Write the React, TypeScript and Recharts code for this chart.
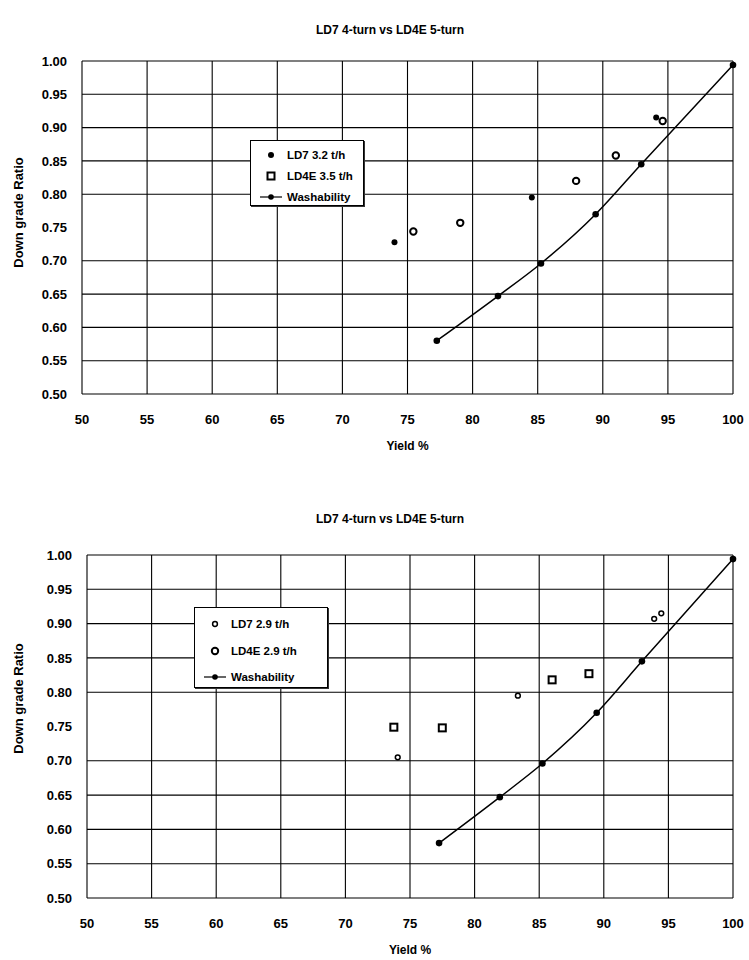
import { ComposedChart, Scatter, Line, XAxis, YAxis, CartesianGrid } from "recharts"

const xTicks = [50, 55, 60, 65, 70, 75, 80, 85, 90, 95, 100]
const yTicks = [0.5, 0.55, 0.6, 0.65, 0.7, 0.75, 0.8, 0.85, 0.9, 0.95, 1.0]
// the 0.75 rule is missing on the printed sheet
const yRules = [0.5, 0.55, 0.6, 0.65, 0.7, 0.8, 0.85, 0.9, 0.95, 1.0]

const chartTitle = "LD7 4-turn vs LD4E 5-turn"

// washability curve (same on both sheets)
const washYield = [77.25, 81.95, 85.25, 89.45, 92.95, 100]
const washRatio = [0.58, 0.647, 0.696, 0.77, 0.845, 0.994]

// top sheet
const ld7aYield = [74.0, 84.55, 94.1]
const ld7aRatio = [0.728, 0.795, 0.915]
const ld4eaYield = [75.45, 79.05, 87.95, 91.0, 94.6]
const ld4eaRatio = [0.744, 0.757, 0.82, 0.858, 0.91]

// bottom sheet
const ld7bYield = [74.05, 83.35, 93.9, 94.45]
const ld7bRatio = [0.705, 0.795, 0.907, 0.915]
const ld4ebYield = [73.75, 77.5, 86.0, 88.85]
const ld4ebRatio = [0.749, 0.748, 0.818, 0.827]

const zip = (xs: number[], ys: number[]) => xs.map((x, i) => ({ x, y: ys[i] }))

const font = "'Liberation Sans', Arial, sans-serif"

type Mark = "dot" | "ring" | "small" | "square"

const drawMark = (kind: Mark, cx: number, cy: number) => {
  if (kind === "dot") return <circle cx={cx} cy={cy} r={3} fill="#000" />
  if (kind === "ring") return <circle cx={cx} cy={cy} r={3.2} fill="#fff" stroke="#000" strokeWidth={2} />
  if (kind === "small") return <circle cx={cx} cy={cy} r={2.4} fill="#fff" stroke="#000" strokeWidth={1.5} />
  return <rect x={cx - 3.5} y={cy - 3.5} width={7} height={7} fill="#fff" stroke="#000" strokeWidth={2} />
}

function LegendMark({ kind }: { kind: Mark | "line" }) {
  return (
    <svg width={24} height={10} style={{ display: "block" }}>
      {kind === "line" ? (
        <g>
          <line x1={1} y1={5} x2={23} y2={5} stroke="#000" strokeWidth={1.2} />
          <circle cx={12} cy={5} r={2.8} fill="#000" />
        </g>
      ) : (
        drawMark(kind === "ring" || kind === "square" ? (kind === "ring" ? "square" : "ring") : kind, 12, 5)
      )}
    </svg>
  )
}

type SheetProps = {
  top: number
  height: number
  plotTop: number
  plotLeft: number
  plotBottom: number
  titleY: number
  labelShift: number
  ld7: { x: number; y: number }[]
  ld4e: { x: number; y: number }[]
  ld7Mark: Mark
  ld4eMark: Mark
  ld7Name: string
  ld4eName: string
  legend: { left: number; top: number; width: number; height: number; row: number }
}

function Sheet(p: SheetProps) {
  const wash = zip(washYield, washRatio)
  const plotH = p.height - p.plotTop - p.plotBottom
  return (
    <div style={{ position: "absolute", left: 0, top: p.top, width: 749, height: p.height }}>
      <div
        style={{
          position: "absolute",
          left: 0,
          width: 780,
          top: p.titleY - 8,
          textAlign: "center",
          fontFamily: font,
          fontWeight: "bold",
          fontSize: 12,
          lineHeight: "16px",
        }}
      >
        {chartTitle}
      </div>
      <ComposedChart
        width={749}
        height={p.height}
        margin={{ top: p.plotTop, right: 16, bottom: p.plotBottom - 60, left: 0 }}
      >
        <CartesianGrid
          stroke="#000"
          strokeWidth={1.1}
          horizontalValues={yRules}
          verticalValues={xTicks}
        />
        <XAxis
          type="number"
          dataKey="x"
          domain={[50, 100]}
          ticks={xTicks}
          height={60}
          axisLine={false}
          tickLine={false}
          tickMargin={15}
          tick={{ fill: "#000", fontSize: 13, fontWeight: "bold", fontFamily: font }}
          label={{
            content: ({ viewBox }: any) => (
              <text
                x={viewBox.x + viewBox.width / 2}
                y={viewBox.y + 52}
                textAnchor="middle"
                dominantBaseline="central"
                fontFamily={font}
                fontWeight="bold"
                fontSize={12}
              >
                Yield %
              </text>
            ),
          }}
        />
        <YAxis
          type="number"
          dataKey="y"
          domain={[0.5, 1]}
          ticks={yTicks}
          width={p.plotLeft}
          axisLine={false}
          tickLine={false}
          tickMargin={9}
          tickFormatter={(v: number) => v.toFixed(2)}
          tick={{ fill: "#000", fontSize: 13, fontWeight: "bold", fontFamily: font }}
          label={{
            content: () => {
              const cy = p.plotTop + plotH / 2 - p.labelShift
              return (
                <text
                  x={18}
                  y={cy}
                  transform={`rotate(-90, 18, ${cy})`}
                  textAnchor="middle"
                  dominantBaseline="central"
                  fontFamily={font}
                  fontWeight="bold"
                  fontSize={13}
                >
                  Down grade Ratio
                </text>
              )
            },
          }}
        />
        <Line
          data={wash}
          dataKey="y"
          type="monotone"
          stroke="#000"
          strokeWidth={1.5}
          isAnimationActive={false}
          dot={(d: any) => <circle key={d.index} cx={d.cx} cy={d.cy} r={3.3} fill="#000" />}
          activeDot={false}
        />
        <Scatter
          data={p.ld7}
          dataKey="y"
          isAnimationActive={false}
          shape={(s: any) => drawMark(p.ld7Mark, s.cx, s.cy)}
        />
        <Scatter
          data={p.ld4e}
          dataKey="y"
          isAnimationActive={false}
          shape={(s: any) => drawMark(p.ld4eMark, s.cx, s.cy)}
        />
      </ComposedChart>
      <div
        style={{
          position: "absolute",
          left: p.legend.left,
          top: p.legend.top,
          width: p.legend.width,
          height: p.legend.height,
          boxSizing: "border-box",
          background: "#fff",
          border: "1px solid #000",
          boxShadow: "1px 1px 0 #333",
          fontFamily: font,
          fontWeight: "bold",
          fontSize: 11.5,
          paddingTop: 3,
        }}
      >
        {[
          { kind: p.ld7Mark as Mark | "line", name: p.ld7Name },
          { kind: p.ld4eMark as Mark | "line", name: p.ld4eName },
          { kind: "line" as Mark | "line", name: "Washability" },
        ].map((r) => (
          <div key={r.name} style={{ display: "flex", alignItems: "center", height: p.legend.row, paddingLeft: 8 }}>
            <LegendMark kind={r.kind} />
            <span style={{ marginLeft: 4 }}>{r.name}</span>
          </div>
        ))}
      </div>
    </div>
  )
}

export default function App() {
  return (
    <div style={{ position: "absolute", left: 0, top: 0, width: 749, height: 960, background: "#fff" }}>
      <Sheet
        top={0}
        height={480}
        plotTop={61}
        plotLeft={82}
        plotBottom={86}
        titleY={30}
        labelShift={15}
        ld7={zip(ld7aYield, ld7aRatio)}
        ld4e={zip(ld4eaYield, ld4eaRatio)}
        ld7Mark="dot"
        ld4eMark="ring"
        ld7Name="LD7 3.2 t/h"
        ld4eName="LD4E 3.5 t/h"
        legend={{ left: 250, top: 140, width: 114, height: 66, row: 21 }}
      />
      <Sheet
        top={490}
        height={470}
        plotTop={65}
        plotLeft={87}
        plotBottom={62}
        titleY={29}
        labelShift={28}
        ld7={zip(ld7bYield, ld7bRatio)}
        ld4e={zip(ld4ebYield, ld4ebRatio)}
        ld7Mark="small"
        ld4eMark="square"
        ld7Name="LD7 2.9 t/h"
        ld4eName="LD4E 2.9 t/h"
        legend={{ left: 194, top: 117, width: 134, height: 81, row: 26.5 }}
      />
    </div>
  )
}
